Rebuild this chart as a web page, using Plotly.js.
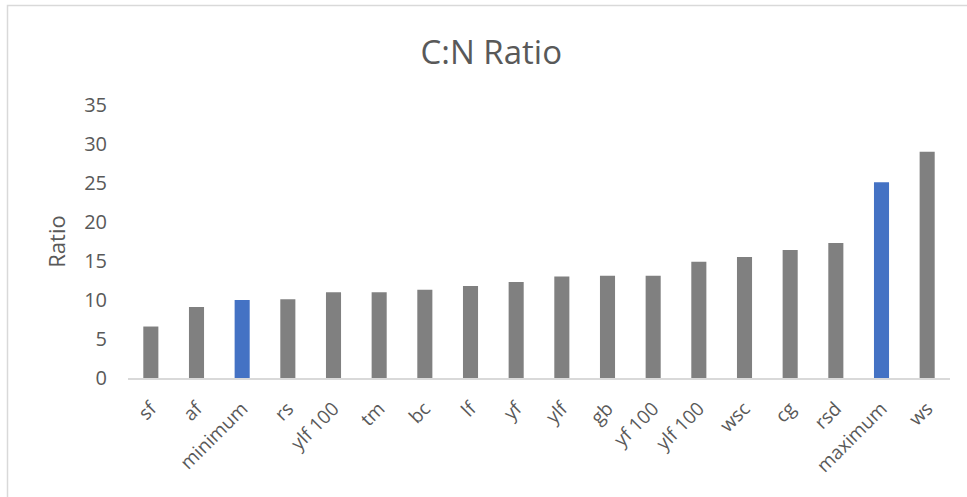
<!DOCTYPE html>
<html>
<head>
<meta charset="utf-8">
<script src="https://cdn.plot.ly/plotly-3.0.1.min.js"></script>
<style>
  html, body { margin: 0; padding: 0; background: #ffffff; }
  #chart { width: 967px; height: 497px; }
</style>
</head>
<body>
<div id="chart"></div>
<script>
// C:N ratio per sample, sorted ascending, with the reference minimum and maximum
const categories = ["sf", "af", "minimum", "rs", "ylf 100", "tm", "bc", "lf", "yf",
                    "ylf", "gb", "yf 100", "ylf 100", "wsc", "cg", "rsd", "maximum", "ws"];
const ratios = [6.6, 9.1, 10.0, 10.1, 11.0, 11.0, 11.3, 11.8, 12.3,
                13.0, 13.1, 13.1, 14.9, 15.5, 16.4, 17.3, 25.1, 29.0];
const referenceLabels = ["minimum", "maximum"];
const yTicks = [0, 5, 10, 15, 20, 25, 30, 35];

const GREY = "#808080";
const BLUE = "#4472C4";
const TEXT = "#595959";
const FONT = "'Open Sans', 'Noto Sans', sans-serif";

// numeric positions so repeated labels (e.g. "ylf 100") keep their own bar
const positions = categories.map((_, i) => i);
const barColors = categories.map(c => referenceLabels.includes(c) ? BLUE : GREY);

const trace = {
  type: "bar",
  x: positions,
  y: ratios,
  marker: { color: barColors },
  hoverinfo: "skip"
};

const plotL = 128, plotR = 950, plotT = 105, plotB = 378;
const W = 967, H = 497;
const pw = plotR - plotL, ph = plotB - plotT;
// paper-coordinate helpers for the outer chart frame
const px = v => (v - plotL) / pw;
const py = v => (plotB - v) / ph;

const layout = {
  width: W,
  height: H,
  margin: { l: plotL, r: W - plotR, t: plotT, b: H - plotB, pad: 0 },
  paper_bgcolor: "#ffffff",
  plot_bgcolor: "#ffffff",
  showlegend: false,
  bargap: 0.67,
  font: { family: FONT, color: TEXT },
  title: {
    text: "C:N Ratio",
    font: { family: FONT, size: 33, color: TEXT },
    x: 0.508, xref: "container", xanchor: "center",
    y: 0.895, yref: "container", yanchor: "middle"
  },
  xaxis: {
    type: "linear",
    range: [-0.5, categories.length - 0.5],
    tickmode: "array",
    tickvals: positions,
    ticktext: categories,
    tickangle: -45,
    tickfont: { family: FONT, size: 19, color: TEXT },
    ticks: "",
    ticklabelstandoff: 10,
    showgrid: false,
    zeroline: false,
    showline: true,
    linecolor: "#d9d9d9",
    linewidth: 2,
    fixedrange: true
  },
  yaxis: {
    range: [0, 35],
    tickmode: "array",
    tickvals: yTicks,
    ticktext: yTicks.map(String),
    tickfont: { family: FONT, size: 20, color: TEXT },
    ticks: "",
    ticklabelstandoff: 20,
    showgrid: false,
    zeroline: false,
    showline: false,
    title: { text: "Ratio", font: { family: FONT, size: 22, color: TEXT }, standoff: 12 },
    fixedrange: true
  },
  shapes: [
    {
      type: "rect", xref: "paper", yref: "paper",
      x0: px(7.5), x1: px(W + 5), y0: py(H + 5), y1: py(5.5),
      line: { color: "#d9d9d9", width: 1.5 },
      fillcolor: "rgba(0,0,0,0)",
      layer: "below"
    }
  ]
};

Plotly.newPlot("chart", [trace], layout, { displayModeBar: false, staticPlot: true });
</script>
</body>
</html>
